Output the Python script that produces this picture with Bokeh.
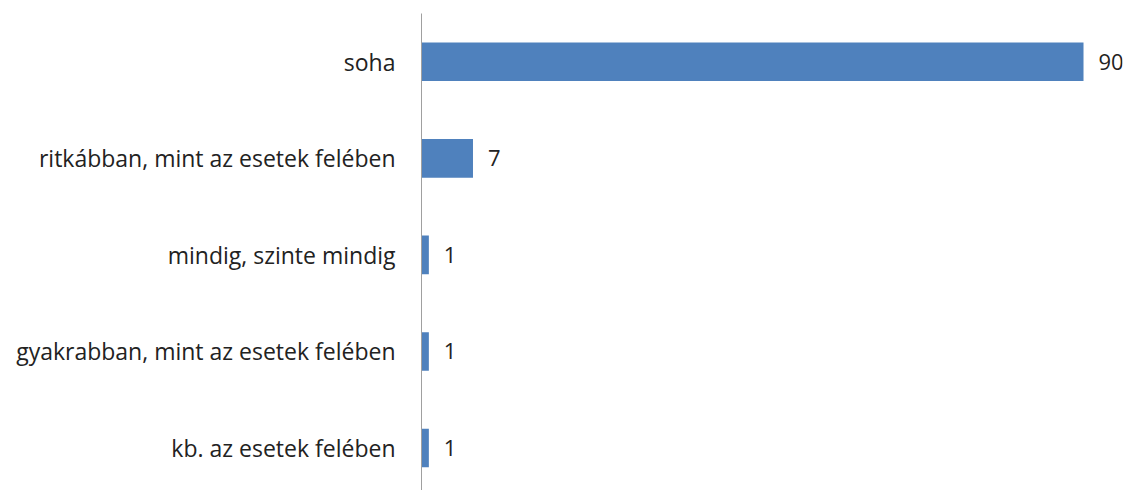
from bokeh.plotting import figure
from bokeh.models import ColumnDataSource, Range1d, FixedTicker
from bokeh.core.properties import value
from bokeh.embed import file_html
from bokeh.resources import INLINE

categories = ["soha", "ritkábban, mint az esetek felében", "mindig, szinte mindig",
              "gyakrabban, mint az esetek felében", "kb. az esetek felében"]
values = [90, 7, 1, 1, 1]
labels = [str(v) for v in values]
positions = list(range(len(categories)))

src = ColumnDataSource(dict(y=positions, v=values, lab=labels, cat=categories))

p = figure(width=1130, height=490, output_backend="svg", toolbar_location=None,
           x_range=Range1d(0, 95.3), y_range=Range1d(4.44, -0.5),
           min_border_left=421, min_border_right=8, min_border_top=13, min_border_bottom=0)
p.hbar(y="y", right="v", left=0, height=0.4, source=src, fill_color="#4F81BD", line_color=None)
p.text(x="v", y="y", text="lab", source=src, x_offset=15, text_baseline="middle",
       text_font=value("Open Sans"), text_font_size="22px", text_color="#222222")

p.xaxis.visible = False
p.xgrid.visible = False
p.ygrid.visible = False
p.outline_line_color = None
p.yaxis.ticker = FixedTicker(ticks=positions)
p.yaxis.major_label_overrides = {i: c for i, c in zip(positions, categories)}
p.yaxis.major_tick_line_color = None
p.yaxis.minor_tick_line_color = None
p.yaxis.axis_line_color = "#a0a0a0"
p.yaxis.axis_line_width = 1
p.yaxis.major_label_standoff = 20
p.yaxis.major_label_text_font = "Open Sans"
p.yaxis.major_label_text_font_size = "23px"
p.yaxis.major_label_text_color = "#222222"

open("out.html", "w").write(file_html(p, INLINE))
